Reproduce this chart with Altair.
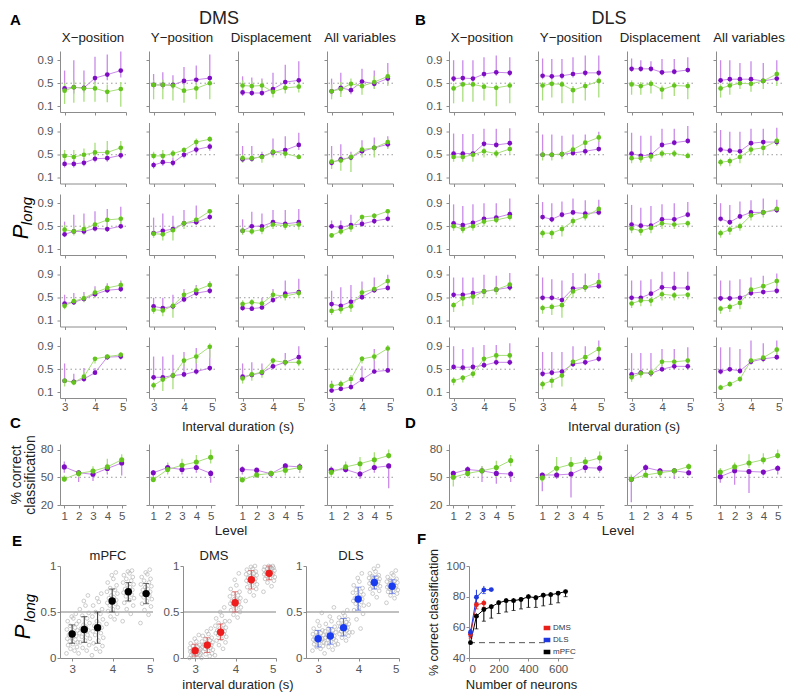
import altair as alt
import pandas as pd

FONT = "Liberation Sans"
T_INT = [3.0, 3.3, 3.63, 3.99, 4.39, 4.83]
LEVELS = [1, 2, 3, 4, 5]
VARS = ["X\u2212position", "Y\u2212position", "Displacement", "All variables"]

# ---------------- Panel A (DMS), values x100, [row][col][6 intervals]
DMS_P_M = [
 [[41,43,42,59,65,72],[47,47,47,54,56,59],[34,33,33,40,52,55],[36,42,38,53,49,58]],
 [[34,34,36,43,44,49],[32,37,36,50,59,64],[42,43,47,54,58,67],[36,42,45,56,62,68]],
 [[36,41,41,46,45,50],[38,42,45,55,57,66],[42,50,50,57,54,57],[50,48,52,54,59,63]],
 [[40,42,48,56,63,65],[35,32,35,47,58,62],[32,31,33,46,57,60],[39,36,43,51,63,67]],
 [[30,28,33,44,71,72],[36,36,39,41,46,52],[37,40,44,55,62,71],[13,16,19,32,46,48]],
]
DMS_P_LO = [
 [[33,32,34,50,55,60],[40,40,40,46,48,50],[28,28,28,32,42,45],[28,32,31,44,41,48]],
 [[28,28,30,37,38,43],[26,31,30,44,52,57],[38,38,42,48,50,58],[30,36,40,50,56,62]],
 [[31,36,36,41,40,45],[33,37,40,50,52,61],[37,45,45,52,49,52],[45,43,47,49,54,58]],
 [[36,38,43,51,58,60],[30,27,30,42,53,57],[28,27,29,41,52,55],[34,31,38,46,58,62]],
 [[25,24,28,40,66,67],[31,31,34,36,41,47],[32,35,39,50,57,66],[9,12,15,28,42,44]],
]
DMS_P_HI = [
 [[72,90,72,96,100,105],[66,69,64,78,81,100],[62,60,58,68,82,88],[58,68,52,75,72,85]],
 [[42,42,45,55,56,62],[38,47,45,55,70,70],[65,65,55,78,82,88],[65,68,55,75,80,82]],
 [[58,70,72,76,80,84],[65,72,68,78,86,74],[62,75,72,78,78,80],[60,60,70,70,72,74]],
 [[55,58,60,70,75,80],[50,50,55,65,72,78],[45,45,50,65,80,83],[62,68,72,78,85,90]],
 [[60,42,52,52,75,76],[72,72,75,80,87,90],[60,62,60,65,78,90],[30,30,28,55,85,85]],
]
DMS_G_M = [
 [[37,43,41,41,35,40],[47,47,46,37,41,50],[46,45,46,35,42,44],[36,40,49,45,52,62]],
 [[48,46,50,54,54,62],[48,48,52,58,72,77],[44,44,46,55,52,46],[38,40,46,59,62,72]],
 [[44,41,45,53,61,63],[37,36,43,55,61,76],[42,41,44,53,51,53],[34,41,48,66,68,76]],
 [[36,44,49,59,67,72],[29,28,36,55,63,72],[39,42,40,55,53,58],[27,30,35,59,65,79]],
 [[30,27,37,68,72,75],[22,32,39,65,72,89],[34,41,45,65,62,62],[21,24,33,68,72,86]],
]
DMS_G_LO = [
 [[14,16,18,18,17,9],[22,22,20,16,22,22],[38,36,36,25,32,34],[22,26,36,30,40,45]],
 [[40,38,42,44,42,50],[42,42,45,50,65,72],[36,38,36,45,44,44],[25,22,20,45,45,60]],
 [[37,34,35,42,45,50],[30,25,25,45,55,72],[35,35,36,45,44,44],[30,35,40,60,60,70]],
 [[30,38,42,50,60,65],[22,18,15,45,55,65],[35,33,35,48,45,50],[20,22,25,50,60,70]],
 [[20,22,30,60,68,70],[14,12,15,55,60,70],[25,30,35,55,55,55],[15,18,25,60,65,80]],
]
DMS_G_HI = [
 [[50,55,52,52,48,52],[55,56,55,46,50,58],[55,54,55,45,52,53],[48,52,58,55,62,70]],
 [[58,58,61,71,74,74],[55,58,58,63,78,82],[50,50,52,60,58,50],[45,48,52,65,68,78]],
 [[52,50,55,58,65,68],[44,42,50,60,66,80],[48,47,50,60,57,60],[38,46,55,70,72,80]],
 [[42,50,56,66,72,78],[36,36,42,62,70,78],[45,48,46,62,60,65],[34,36,42,66,70,84]],
 [[35,32,45,70,75,80],[28,38,45,72,78,95],[40,46,50,70,68,68],[27,30,40,73,78,92]],
]

# ---------------- Panel B (DLS)
DLS_P_M = [
 [[58,59,58,66,69,68],[63,62,63,66,68,68],[75,75,75,69,70,73],[55,57,57,57,54,58]],
 [[52,52,52,69,67,70],[50,50,51,53,56,60],[52,48,50,67,71,74],[59,57,56,70,72,72]],
 [[55,52,56,63,65,71],[66,62,70,74,72,74],[53,51,51,62,62,70],[63,57,67,74,74,78]],
 [[55,55,58,61,64,68],[50,50,46,66,68,70],[50,50,57,68,67,67],[49,49,50,58,60,62]],
 [[54,53,54,57,62,62],[42,44,46,59,62,68],[41,44,43,50,55,55],[46,50,47,63,68,71]],
]
DLS_P_LO = [
 [[52,53,52,60,63,62],[57,56,57,60,62,62],[70,70,70,64,65,68],[50,52,52,52,49,53]],
 [[47,47,47,64,62,65],[45,45,46,48,51,55],[47,43,45,62,66,69],[54,52,51,65,67,67]],
 [[50,47,51,58,60,66],[61,57,65,69,67,69],[48,46,46,57,57,65],[58,52,62,69,69,73]],
 [[50,50,53,56,59,63],[45,45,41,61,63,65],[45,45,52,63,62,62],[44,44,45,53,55,57]],
 [[49,48,49,52,57,57],[37,39,41,54,57,63],[36,39,38,45,50,50],[41,45,42,58,63,66]],
]
DLS_P_HI = [
 [[90,90,90,95,98,95],[93,92,92,95,98,98],[93,90,88,92,92,95],[90,90,85,88,85,90]],
 [[87,86,86,95,95,96],[85,85,83,85,85,90],[88,83,83,95,95,100],[93,90,90,95,95,97]],
 [[88,85,88,90,90,98],[92,90,93,98,95,96],[87,82,85,88,90,92],[90,87,93,95,98,96]],
 [[85,85,85,90,88,93],[85,82,80,93,92,93],[80,80,82,95,95,95],[80,80,82,85,88,92]],
 [[90,85,88,92,92,95],[80,80,80,90,90,100],[78,78,78,85,85,88],[88,88,85,100,95,100]],
]
DLS_G_M = [
 [[41,48,48,44,42,46],[46,49,48,38,45,54],[48,45,49,39,46,45],[41,46,50,49,54,66]],
 [[46,46,50,56,52,60],[50,50,51,59,71,80],[44,44,47,52,52,48],[37,39,46,59,62,74]],
 [[50,45,50,58,61,66],[38,38,45,59,67,80],[46,42,47,55,53,55],[38,44,50,69,74,80]],
 [[37,49,52,61,64,73],[32,34,37,61,68,77],[40,45,45,56,54,55],[31,34,41,64,70,79]],
 [[30,35,42,68,74,74],[24,30,39,63,71,85],[36,43,44,63,63,65],[18,24,33,65,70,84]],
]
DLS_G_LO = [
 [[15,18,18,20,10,15],[20,25,15,15,20,25],[30,30,32,22,28,22],[25,30,40,35,40,45]],
 [[38,38,38,45,45,50],[40,40,42,50,62,72],[35,36,38,45,46,44],[30,30,35,50,50,65]],
 [[42,38,42,50,55,60],[30,28,32,50,60,70],[38,34,38,45,45,48],[30,35,42,60,65,74]],
 [[25,35,38,50,55,62],[22,20,15,50,60,68],[32,35,35,45,45,47],[22,25,30,55,62,70]],
 [[22,27,35,60,65,65],[15,18,20,55,62,75],[28,35,37,55,55,58],[14,20,28,58,62,75]],
]
DLS_G_HI = [
 [[50,52,52,50,48,52],[52,55,54,45,52,60],[55,52,55,46,52,52],[48,52,56,55,60,72]],
 [[52,52,56,62,58,66],[56,56,57,65,76,85],[50,50,53,58,58,54],[43,45,52,65,68,80]],
 [[56,52,56,64,66,71],[44,44,52,65,72,84],[52,48,53,60,58,60],[44,50,56,74,80,84]],
 [[42,54,57,66,70,78],[38,40,42,66,73,82],[46,50,50,62,60,60],[36,40,46,70,76,84]],
 [[36,40,48,72,78,78],[30,36,45,68,76,90],[42,48,50,68,68,70],[23,29,38,70,75,89]],
]

# ---------------- Panels C (DMS) and D (DLS): % correct by level, [col][5 levels]
C_P_M = [[61.2,54.9,53.2,59.5,65.4],[54.9,60.5,58.4,60.5,54.2],[58.4,57.7,53.8,62.3,61.2],[57.7,58.4,53.5,60.5,62.3]]
C_P_LO = [[55,45,46,53,52],[50,55,53,55,44],[53,52,50,56,55],[54,55,48,55,38]]
C_P_HI = [[67,58,58,65,70],[58,65,62,68,58],[62,60,57,65,65],[60,62,57,65,65]]
C_G_M = [[48.2,54.2,56.7,61.2,69.0],[47.5,58.4,63.0,66.5,71.7],[47.2,52.5,54.2,57.7,60.5],[55.3,61.2,64.7,69.0,73.5]]
C_G_LO = [[45,50,53,55,65],[45,53,57,60,65],[45,50,52,52,55],[50,56,58,62,70]]
C_G_HI = [[52,58,62,70,75],[50,66,70,74,80],[50,55,56,62,65],[62,67,72,77,80]]
D_P_M = [[54.2,58.4,57.0,54.2,53.5],[52.5,52.5,53.5,60.5,59.8],[47.9,60.5,57.0,57.0,54.9],[50.7,57.0,56.3,55.6,59.8]]
D_P_LO = [[50,55,45,43,45],[35,48,28,55,55],[23,55,50,48,52],[44,42,33,52,53]]
D_P_HI = [[57,62,62,60,57],[55,56,56,65,63],[50,64,60,60,58],[54,60,58,58,63]]
D_G_M = [[50.0,54.2,57.0,60.5,68.2],[49.3,59.8,64.0,66.8,71.0],[47.9,52.5,54.9,57.0,61.6],[55.6,61.2,65.4,69.0,73.5]]
D_G_LO = [[40,50,52,50,62],[45,52,55,60,65],[45,50,50,52,58],[52,57,60,64,70]]
D_G_HI = [[52,57,62,68,74],[53,72,72,72,78],[53,55,57,60,65],[60,66,75,76,80]]

# ---------------- Panel E: single-trial P_long (x100) per interval, means and error bars
E_MPFC_CLOUD = [
 [5,8,10,12,14,15,17,18,20,21,22,24,25,26,28,30,31,33,35,37,40,43,45,48],
 [5,8,11,14,17,19,21,23,25,27,29,30,32,34,36,38,40,43,46,49,53,57,62,68],
 [3,7,10,13,16,19,22,25,27,29,31,33,35,37,40,42,45,48,50,53,57,61,65,70],
 [37,42,45,48,51,53,55,57,59,60,62,63,65,66,68,70,72,74,76,79,82,86,90,93],
 [40,48,53,57,60,63,65,67,69,71,72,74,75,77,79,80,82,84,86,88,90,92,94,95],
 [38,47,52,56,59,62,64,66,68,69,71,72,74,75,77,78,80,82,84,86,88,91,93,96],
]
E_DMS_CLOUD = [
 [0,1,2,3,3,4,5,5,6,7,7,8,8,9,10,10,11,12,13,14,16,18,21,25],
 [0,2,4,5,7,8,9,10,11,12,13,14,14,15,16,17,18,19,21,22,24,26,29,32],
 [3,10,14,17,19,21,23,25,26,27,28,29,30,31,32,33,35,36,38,40,43,46,50,55],
 [40,44,47,50,52,54,55,57,58,59,60,61,62,63,64,65,67,68,70,72,75,79,85,92],
 [62,68,72,75,77,79,80,82,83,84,85,86,87,88,89,90,91,92,93,94,96,97,99,100],
 [72,78,82,84,86,87,88,89,90,91,92,92,93,94,95,95,96,97,97,98,99,99,100,100],
]
E_DLS_CLOUD = [
 [8,10,12,13,15,16,17,18,19,20,21,21,22,23,24,25,26,27,28,30,32,35,40,49],
 [5,9,12,14,16,18,19,20,21,22,23,24,25,26,27,28,29,30,32,34,37,40,45,55],
 [15,19,22,24,26,27,28,29,30,31,32,33,34,35,36,37,38,39,41,42,44,46,49,52],
 [28,32,42,48,52,55,57,59,61,62,63,64,65,66,68,69,71,72,74,76,79,83,87,92],
 [58,66,70,73,75,77,78,79,80,81,82,83,84,84,85,86,87,88,89,90,92,94,97,100],
 [60,65,68,70,72,73,74,75,76,77,78,78,79,80,81,82,83,84,85,86,88,90,92,95],
]
E_MPFC_M = [26,31,33,62,72,70]; E_MPFC_LO = [16,17,16,50,62,59]; E_MPFC_HI = [36,45,50,75,82,81]
E_DMS_M = [8,14,28,60,85,92];   E_DMS_LO = [2,6,20,50,75,85];    E_DMS_HI = [15,22,37,72,95,100]
E_DLS_M = [21,24,33,64,82,78];  E_DLS_LO = [12,15,24,52,75,70];  E_DLS_HI = [30,33,43,77,89,85]
JITTER = [-0.14,0.06,-0.04,0.12,-0.10,0.02,0.14,-0.06,0.08,-0.12,0.0,0.10,
          -0.08,0.04,-0.02,0.13,-0.13,0.07,-0.05,0.11,-0.11,0.03,-0.01,0.09]

# ---------------- Panel F: decoding accuracy vs number of neurons
F_N_MPFC = [10,50,100,150,200,250,300,350,400,450,500,550,600,650]
F_M_MPFC = [50,67.3,71.6,73.4,76.0,77.4,77.4,78.2,80.0,79.3,80.9,81.3,82.2,83.3]
F_LO_MPFC = [50,59,64,66,69,70,71,72,73,73,74,75,76,80]
F_HI_MPFC = [51,69,73,75,77.5,79,79,79.5,81.5,81,82.5,83,83.5,84.5]
F_N_DMS = [10,50,100]
F_M_DMS = [55.5,74.7,75.8]; F_LO_DMS = [53,72,73]; F_HI_DMS = [58,78,78]
F_N_DLS = [10,50,100,150]
F_M_DLS = [56.8,79.6,84.4,84.6]; F_LO_DLS = [54,76,82,84]; F_HI_DLS = [59,84.5,87,85.5]

CDOM = ["G", "P", "Gd", "Pd"]
CRNG = ["#a8df7c", "#c98ae8", "#62c41c", "#7d0cc2"]
AXC = "#8c8c8c"


def label(s, x, y, size=13, weight="normal", angle=0, align="center", style="normal", color="#222"):
    return alt.Chart(pd.DataFrame({"t": [s]})).mark_text(
        align=align, baseline="middle", fontSize=size, fontWeight=weight, angle=angle,
        font=FONT, fontStyle=style, color=color
    ).encode(text="t:N", x=alt.value(x), y=alt.value(y))


def blank(w, h, texts=()):
    base = alt.Chart(pd.DataFrame({"a": [0]})).mark_point(opacity=0).encode(
        x=alt.value(0), y=alt.value(0))
    return alt.layer(base, *texts).properties(width=w, height=h)


def trend_panel(xs, pm, plo, phi, gm, glo, ghi, div, xdom, ydom, xvals, yvals, yfmt,
                show_x, show_y, ref, w, h, ptsize, xpad, extras):
    rows = []
    for s, m, lo, hi in (("P", pm, plo, phi), ("G", gm, glo, ghi)):
        for x, a, b, c in zip(xs, m, lo, hi):
            rows.append({"x": x, "s": s, "sd": s + "d", "m": a / div, "lo": b / div, "hi": c / div})
    df = pd.DataFrame(rows)
    xsc = alt.Scale(domain=xdom, nice=False, zero=False)
    ysc = alt.Scale(domain=ydom, nice=False, zero=False)
    xax = alt.Axis(values=xvals, labels=show_x, title=None, labelPadding=xpad, format="d")
    yax = alt.Axis(values=yvals, labels=show_y, title=None, labelPadding=4, format=yfmt)
    col = alt.Color("s:N", scale=alt.Scale(domain=CDOM, range=CRNG), legend=None)
    cold = alt.Color("sd:N", scale=alt.Scale(domain=CDOM, range=CRNG), legend=None)
    X = alt.X("x:Q", scale=xsc, axis=xax)
    refl = alt.Chart(pd.DataFrame({"r": [ref]})).mark_rule(
        strokeDash=[1.5, 3], color="#9a9a9a", strokeWidth=1).encode(
        y=alt.Y("r:Q", scale=ysc, axis=yax))
    base = alt.Chart(df)
    bars = base.mark_rule(strokeWidth=1.3, clip=True).encode(
        x=X, y=alt.Y("lo:Q", scale=ysc, axis=yax), y2="hi:Q", color=col)
    line = base.mark_line(strokeWidth=1).encode(
        x=X, y=alt.Y("m:Q", scale=ysc, axis=yax), color=col)
    pts = base.mark_circle(size=ptsize, opacity=1).encode(
        x=X, y=alt.Y("m:Q", scale=ysc, axis=yax), color=cold)
    return alt.layer(refl, bars, line, pts, *extras).properties(width=w, height=h)


def ab_cell(region, r, c):
    if region == "DMS":
        arrs = (DMS_P_M, DMS_P_LO, DMS_P_HI, DMS_G_M, DMS_G_LO, DMS_G_HI)
    else:
        arrs = (DLS_P_M, DLS_P_LO, DLS_P_HI, DLS_G_M, DLS_G_LO, DLS_G_HI)
    pm, plo, phi, gm, glo, ghi = [a[r][c] for a in arrs]
    extras = []
    if r == 0:
        extras.append(label(VARS[c], 33, -13, 13.3))
    if r == 0 and c == 0:
        if region == "DMS":
            extras.append(label("A", -50, -31, 15, "bold", align="left", color="#000"))
            extras.append(label("DMS", 159, -32, 18))
        else:
            extras.append(label("B", -34, -31, 15, "bold", align="left", color="#000"))
            extras.append(label("DLS", 160, -32, 18))
    if region == "DMS" and r == 2 and c == 0:
        extras.append(label("P", -39, 38, 22, angle=270, style="italic", color="#000"))
        extras.append(label("long", -33, 17, 15, angle=270, style="italic", color="#000"))
    return trend_panel(T_INT, pm, plo, phi, gm, glo, ghi, 100, [2.85, 5.0], [0, 1.06],
                       [3, 4, 5], [0.1, 0.5, 0.9], ".1f", r == 4, c == 0, 0.5, 66, 61, 22, 0, extras)


def cd_cell(region, c):
    if region == "C":
        arrs = (C_P_M, C_P_LO, C_P_HI, C_G_M, C_G_LO, C_G_HI)
    else:
        arrs = (D_P_M, D_P_LO, D_P_HI, D_G_M, D_G_LO, D_G_HI)
    pm, plo, phi, gm, glo, ghi = [a[c] for a in arrs]
    extras = []
    if region == "C" and c == 0:
        extras.append(label("% correct", -43, 31, 14, angle=270))
        extras.append(label("classification", -29, 31, 14, angle=270))
    if c == 1:
        extras.append(label("Level", 82 if region == "C" else 80, 87, 13.5))
    return trend_panel(LEVELS, pm, plo, phi, gm, glo, ghi, 1, [0.7, 5.3], [20, 86],
                       [1, 2, 3, 4, 5], [20, 50, 80], "d", True, c == 0, 50, 66, 61, 26, 2, extras)


def e_panel(cloud, m, lo, hi, color, barcolor, extras):
    crow = []
    for i, t in enumerate(T_INT):
        for j, v in enumerate(cloud[i]):
            crow.append({"x": t + JITTER[j], "v": v / 100})
    cdf = pd.DataFrame(crow)
    mdf = pd.DataFrame({"x": T_INT, "m": [v / 100 for v in m],
                        "lo": [v / 100 for v in lo], "hi": [v / 100 for v in hi]})
    xsc = alt.Scale(domain=[2.7, 5.0], nice=False, zero=False)
    ysc = alt.Scale(domain=[0, 1], nice=False)
    xax = alt.Axis(values=[3, 4, 5], title=None, labelPadding=2)
    yax = alt.Axis(values=[0, 0.5, 1], title=None, labelPadding=1, format="~g")
    X = alt.X("x:Q", scale=xsc, axis=xax)
    hline = alt.Chart(pd.DataFrame({"r": [0.5]})).mark_rule(color="#808080", strokeWidth=1).encode(
        y=alt.Y("r:Q", scale=ysc, axis=yax))
    cl = alt.Chart(cdf).mark_point(shape="circle", filled=False, size=14, color="#b0b0b0",
                                   strokeWidth=0.7, opacity=0.9).encode(
        x=X, y=alt.Y("v:Q", scale=ysc, axis=yax))
    mb = alt.Chart(mdf)
    bars = mb.mark_rule(color=barcolor, strokeWidth=1).encode(
        x=X, y=alt.Y("lo:Q", scale=ysc, axis=yax), y2="hi:Q")
    cap_lo = mb.mark_tick(color=barcolor, orient="horizontal", size=6, thickness=1).encode(
        x=X, y=alt.Y("lo:Q", scale=ysc, axis=yax))
    cap_hi = mb.mark_tick(color=barcolor, orient="horizontal", size=6, thickness=1).encode(
        x=X, y=alt.Y("hi:Q", scale=ysc, axis=yax))
    pts = mb.mark_circle(size=55, color=color, opacity=1).encode(
        x=X, y=alt.Y("m:Q", scale=ysc, axis=yax))
    return alt.layer(hline, cl, bars, cap_lo, cap_hi, pts, *extras).properties(width=93, height=92)


def f_panel():
    rows = []
    for g, ns, ms, los, his in (("mPFC", F_N_MPFC, F_M_MPFC, F_LO_MPFC, F_HI_MPFC),
                                ("DMS", F_N_DMS, F_M_DMS, F_LO_DMS, F_HI_DMS),
                                ("DLS", F_N_DLS, F_M_DLS, F_LO_DLS, F_HI_DLS)):
        for n, a, b, c in zip(ns, ms, los, his):
            rows.append({"g": g, "n": n, "m": a, "lo": b, "hi": c})
    df = pd.DataFrame(rows)
    xsc = alt.Scale(domain=[0, 700], nice=False)
    ysc = alt.Scale(domain=[40, 100], nice=False, zero=False)
    xax = alt.Axis(values=[0, 200, 400, 600], title="Number of neurons", labelPadding=2,
                   titlePadding=4, titleFontSize=13)
    yax = alt.Axis(values=[40, 60, 80, 100], title="% correct classification", labelPadding=1,
                   titlePadding=5, titleFontSize=12.5)
    csc = alt.Scale(domain=["DMS", "DLS", "mPFC"], range=["#e8201a", "#1f38e0", "#000000"])
    leg = alt.Legend(orient="none", legendX=74, legendY=58, title=None,
                     symbolType="M-1,-0.5L1,-0.5L1,0.5L-1,0.5Z", symbolSize=22,
                     symbolStrokeWidth=2, labelFontSize=8, labelFont=FONT, labelColor="#333",
                     rowPadding=0, padding=0, labelOffset=2, symbolOpacity=1)
    C = alt.Color("g:N", scale=csc, legend=leg)
    X = alt.X("n:Q", scale=xsc, axis=xax)
    base = alt.Chart(df)
    dash = alt.Chart(pd.DataFrame({"a": [0], "b": [520], "y": [50]})).mark_rule(
        color="#555", strokeDash=[6, 4], strokeWidth=1).encode(
        x=alt.X("a:Q", scale=xsc, axis=xax), x2="b:Q", y=alt.Y("y:Q", scale=ysc, axis=yax))
    bars = base.mark_rule(strokeWidth=1).encode(
        x=X, y=alt.Y("lo:Q", scale=ysc, axis=yax), y2="hi:Q", color=C)
    caps = base.mark_tick(orient="horizontal", size=4, thickness=1).encode(
        x=X, y=alt.Y("lo:Q", scale=ysc, axis=yax), color=C)
    line = base.mark_line(strokeWidth=1).encode(
        x=X, y=alt.Y("m:Q", scale=ysc, axis=yax), color=C)
    pts = base.mark_circle(size=24, opacity=1).encode(
        x=X, y=alt.Y("m:Q", scale=ysc, axis=yax), color=C)
    f_lab = label("F", -52, -27, 15, "bold", align="left", color="#000")
    return alt.layer(dash, bars, caps, line, pts, f_lab).properties(width=104, height=92)


# ---------------- assemble
cells = []
for r in range(5):
    for c in range(4):
        cells.append(ab_cell("DMS", r, c))
    cells.append(blank(10, 61))
    for c in range(4):
        cells.append(ab_cell("DLS", r, c))
# spacer row with texts
for k in range(9):
    texts = []
    w = 10 if k == 4 else 66
    if k == 0:
        texts.append(label("C", -50, 14.5, 15, "bold", align="left", color="#000"))
    if k == 1:
        texts.append(label("Interval duration (s)", 89, 18.5, 13))
    if k == 5:
        texts.append(label("D", -44, 14.5, 15, "bold", align="left", color="#000"))
    if k == 6:
        texts.append(label("Interval duration (s)", 86, 18, 13))
    cells.append(blank(w, 25, texts))
for c in range(4):
    cells.append(cd_cell("C", c))
cells.append(blank(10, 61))
for c in range(4):
    cells.append(cd_cell("D", c))

grid = alt.concat(*cells, columns=9, align="each", bounds="flush",
                  spacing={"row": 10.5, "column": 23})

e1 = e_panel(E_MPFC_CLOUD, E_MPFC_M, E_MPFC_LO, E_MPFC_HI, "#000000", "#333333", [
    label("E", -48, -25, 15, "bold", align="left", color="#000"),
    label("mPFC", 48, -10, 13),
    label("P", -37, 66, 22, angle=270, style="italic", color="#000"),
    label("long", -30, 42, 15, angle=270, style="italic", color="#000"),
])
e2 = e_panel(E_DMS_CLOUD, E_DMS_M, E_DMS_LO, E_DMS_HI, "#ee1c1c", "#e05050", [
    label("DMS", 31, -10, 13),
    label("interval duration (s)", 55, 119, 13),
])
e3 = e_panel(E_DLS_CLOUD, E_DLS_M, E_DLS_LO, E_DLS_HI, "#1a3cf0", "#5066e0", [
    label("DLS", 45, -10, 13),
])
ef = alt.hconcat(e1, e2, e3, blank(10, 92), f_panel(), spacing=30,
                 bounds="flush").resolve_scale(color="independent")

chart = alt.vconcat(grid, ef, spacing=-6).resolve_scale(color="independent").properties(
    padding={"left": 2, "top": 2, "right": 0, "bottom": 0}
).configure_view(
    stroke=None
).configure_axis(
    grid=False, domainColor=AXC, tickColor=AXC, tickSize=3, domainWidth=1,
    labelFont=FONT, labelFontSize=11.5, labelColor="#555",
    titleFont=FONT, titleFontWeight="normal", titleColor="#222"
)

chart.save("out.html", embed_options={"renderer": "svg", "actions": False})
